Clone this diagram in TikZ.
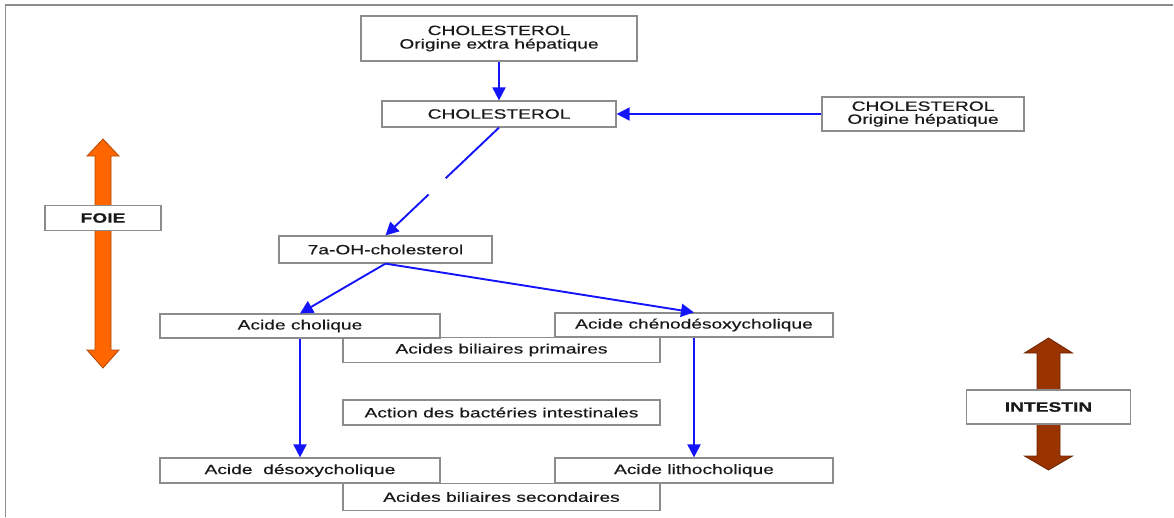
\documentclass[tikz,border=0pt]{standalone}
\usepackage{fontspec}
\setmainfont[FakeStretch=1.42,FakeBold=0.4]{Liberation Sans}
\usetikzlibrary{arrows.meta,calc}
\definecolor{arrblue}{RGB}{20,20,250}
\definecolor{foieor}{RGB}{255,102,0}
\definecolor{intbr}{RGB}{153,51,0}
\definecolor{boxgray}{RGB}{140,140,140}
\definecolor{txt}{RGB}{25,25,25}
\begin{document}
\begin{tikzpicture}[x=1pt,y=-1pt,
  box/.style={draw=boxgray,line width=1.2pt,fill=white,rectangle,inner sep=0pt,
    text=txt,font=\fontsize{13.5}{14}\selectfont,align=center},
  flow/.style={draw=arrblue,line width=1.9pt,-{Triangle[length=13pt,width=13pt]}},
  bigarrow/.style={line width=0.8pt}]
\useasboundingbox (0,0) rectangle (1174,517);
\draw[boxgray,line width=1.8pt] (5.5,517) -- (5.5,5) -- (1173,5);

% big double arrows
\draw[bigarrow,fill=foieor,draw=foieor!70!black]
  (103,139) -- (119,156) -- (111,156) -- (111,350) -- (119,350) -- (103,368)
  -- (87,350) -- (95,350) -- (95,156) -- (87,156) -- cycle;
\draw[bigarrow,fill=intbr,draw=intbr!70!black]
  (1048.5,338) -- (1072.5,353) -- (1060,353) -- (1060,456) -- (1072.5,456) -- (1048.5,470)
  -- (1024.5,456) -- (1037,456) -- (1037,353) -- (1024.5,353) -- cycle;
\node[box,minimum width=116pt,minimum height=25pt,font=\fontsize{13.5}{14}\selectfont\bfseries] (foie) at (103,218) {FOIE};
\node[box,minimum width=164pt,minimum height=34pt,font=\fontsize{13.5}{14}\selectfont\bfseries] (intestin) at (1048.5,407) {INTESTIN};

% nodes
\node[box,minimum width=276pt,minimum height=45pt,font=\fontsize{13.5}{13.5}\selectfont] (top) at (499,38.5) {CHOLESTEROL\\Origine extra hépatique};
\node[box,minimum width=234pt,minimum height=26pt] (chol2) at (499,114) {CHOLESTEROL};
\node[box,minimum width=202pt,minimum height=34pt,font=\fontsize{13.5}{13}\selectfont] (hep) at (923,114) {CHOLESTEROL\\Origine hépatique};
\node[box,minimum width=213pt,minimum height=27pt] (oh) at (385.5,249.5) {7a-OH-cholesterol};
\node[box,minimum width=317pt,minimum height=25pt] (prim) at (501.5,350) {Acides biliaires primaires};
\node[box,minimum width=280pt,minimum height=24pt] (cholique) at (300,326) {Acide cholique};
\node[box,minimum width=278pt,minimum height=24pt] (cheno) at (694,325) {Acide chénodésoxycholique};
\node[box,minimum width=317pt,minimum height=25pt] (action) at (501.5,412.5) {Action des bactéries intestinales};
\node[box,minimum width=317pt,minimum height=27pt] (sec) at (501.5,497) {Acides biliaires secondaires};
\node[box,minimum width=280pt,minimum height=25pt] (desoxy) at (300,470.5) {Acide\hspace{0.4em} désoxycholique};
\node[box,minimum width=278pt,minimum height=25pt] (litho) at (694,470.5) {Acide lithocholique};

% connectors
\draw[flow] (top) -- (chol2);
\draw[flow] (hep) -- (chol2);
\coordinate (g1) at ($(chol2.south)!0.47!(oh.north)$);
\coordinate (g2) at ($(chol2.south)!0.62!(oh.north)$);
\draw[draw=arrblue,line width=1.9pt] (chol2.south) -- (g1);
\draw[flow] (g2) -- (oh.north);
\draw[flow] (oh.south) -- (cholique.north);
\draw[flow] (oh.south) -- (cheno.north);
\draw[flow] (cholique.south) -- (desoxy.north);
\draw[flow] (cheno.south) -- (litho.north);
\end{tikzpicture}
\end{document}
